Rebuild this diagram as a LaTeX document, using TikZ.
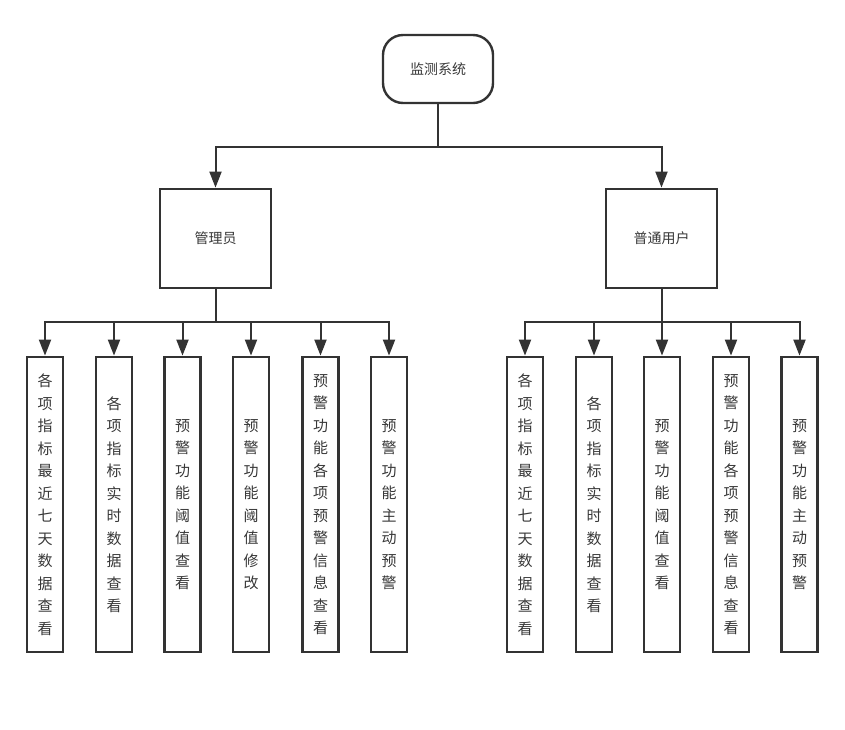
\documentclass[tikz,border=0pt]{standalone}
\usepackage{fontspec}
\newfontfamily\cjk{Noto Sans CJK SC}
\usetikzlibrary{positioning,arrows.meta}
\definecolor{linegray}{HTML}{333333}
\definecolor{textgray}{HTML}{383838}

\begin{document}
\begin{tikzpicture}[x=1pt, y=-1pt, >={Triangle[length=16pt, width=12pt]},
  root/.style = {draw=linegray, line width=2.4pt, rounded corners=20pt, minimum width=110pt, minimum height=68pt, font=\cjk\fontsize{14}{17}\selectfont, text=textgray},
  role/.style = {draw=linegray, line width=2.8pt, minimum width=111pt, minimum height=99pt, font=\cjk\fontsize{14}{17}\selectfont, text=textgray},
  leaf/.style = {draw=linegray, line width=2.8pt, minimum width=36pt, minimum height=295pt, inner sep=0pt, align=center, font=\cjk\fontsize{15}{22.5}\selectfont, text=textgray},
  wire/.style = {draw=linegray, line width=2pt},
  link/.style = {wire, ->}]

\useasboundingbox[fill=white] (0,0) rectangle (845,729);

% top
\node[root] (sys) at (438,69) {监测系统};
\node[role] (admin) at (215.5,238.5) {管理员};
\node[role] (user) at (661.5,238.5) {普通用户};

\coordinate (sysj) at (438,147);
\coordinate (adminj) at (215.5,322);
\coordinate (userj) at (661.5,322);

% admin leaves
\node[leaf] (a1) at (45,504.5) {各\\项\\指\\标\\最\\近\\七\\天\\数\\据\\查\\看};
\node[leaf] (a2) at (114,504.5) {各\\项\\指\\标\\实\\时\\数\\据\\查\\看};
\node[leaf] (a3) at (182.5,504.5) {预\\警\\功\\能\\阈\\值\\查\\看};
\node[leaf] (a4) at (251,504.5) {预\\警\\功\\能\\阈\\值\\修\\改};
\node[leaf] (a5) at (320.5,504.5) {预\\警\\功\\能\\各\\项\\预\\警\\信\\息\\查\\看};
\node[leaf] (a6) at (389,504.5) {预\\警\\功\\能\\主\\动\\预\\警};

% user leaves
\node[leaf] (u1) at (525,504.5) {各\\项\\指\\标\\最\\近\\七\\天\\数\\据\\查\\看};
\node[leaf] (u2) at (594,504.5) {各\\项\\指\\标\\实\\时\\数\\据\\查\\看};
\node[leaf] (u3) at (662,504.5) {预\\警\\功\\能\\阈\\值\\查\\看};
\node[leaf] (u4) at (731,504.5) {预\\警\\功\\能\\各\\项\\预\\警\\信\\息\\查\\看};
\node[leaf] (u5) at (799.5,504.5) {预\\警\\功\\能\\主\\动\\预\\警};

% connectors
\draw[wire] (sys) -- (sysj);
\draw[link] (sysj) -| (admin);
\draw[link] (sysj) -| (user);

\draw[wire] (admin) -- (adminj);
\draw[link] (adminj) -| (a1);
\draw[link] (adminj) -| (a2);
\draw[link] (adminj) -| (a3);
\draw[link] (adminj) -| (a4);
\draw[link] (adminj) -| (a5);
\draw[link] (adminj) -| (a6);

\draw[wire] (user) -- (userj);
\draw[link] (userj) -| (u1);
\draw[link] (userj) -| (u2);
\draw[link] (userj) -| (u3);
\draw[link] (userj) -| (u4);
\draw[link] (userj) -| (u5);
\end{tikzpicture}
\end{document}
